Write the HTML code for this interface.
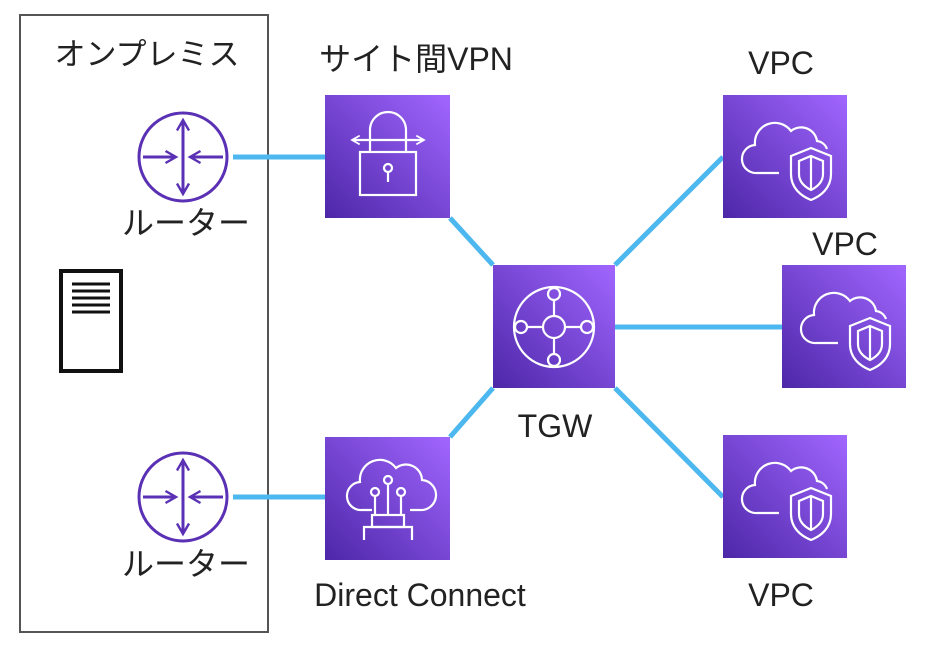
<!DOCTYPE html>
<html><head><meta charset="utf-8"><style>
body{margin:0;background:#fff;}
svg text{font-family:"Liberation Sans","Noto Sans CJK JP",sans-serif;fill:#222;}
</style></head><body>
<svg width="927" height="655" viewBox="0 0 927 655" xmlns="http://www.w3.org/2000/svg">
<defs>
<linearGradient id="g" x1="0" y1="1" x2="1" y2="0">
<stop offset="0" stop-color="#4d27a8"/><stop offset="1" stop-color="#a166ff"/>
</linearGradient>
<marker id="ah" viewBox="0 0 10 10" refX="8" refY="5" markerWidth="5" markerHeight="5" orient="auto-start-reverse"><path d="M1,1 L8,5 L1,9" fill="none" stroke="#5a30b5" stroke-width="1.6"/></marker>
<marker id="wh" viewBox="0 0 10 10" refX="8" refY="5" markerWidth="5" markerHeight="5" orient="auto-start-reverse"><path d="M1,1 L8,5 L1,9" fill="none" stroke="#fff" stroke-width="1.6"/></marker>
<g id="v">
<rect x="0" y="0" width="124" height="123" fill="url(#g)"/>
<g fill="none" stroke="#fff" stroke-width="2.2">
<path d="M56,78 H34 a14,14 0 0 1 -2,-28 a20,20 0 0 1 36,-14 a16,16 0 0 1 26,10 a12,12 0 0 1 10,8"/>
<path d="M88,53 l20,8 v18 c0,14 -10,22 -20,26 c-10,-4 -20,-12 -20,-26 v-18 z"/>
<path d="M88,61 l12,5 v13 c0,8 -6,13 -12,16 c-6,-3 -12,-8 -12,-16 v-13 z"/>
<line x1="88" y1="61" x2="88" y2="95"/>
</g>
</g>
<g id="r1" fill="none" stroke="#5a30b5" stroke-width="3">
<circle cx="183" cy="157" r="44"/>
<line x1="183" y1="120" x2="183" y2="194" marker-start="url(#ah)" marker-end="url(#ah)"/>
<line x1="143" y1="157" x2="176" y2="157" marker-end="url(#ah)"/>
<line x1="223" y1="157" x2="190" y2="157" marker-end="url(#ah)"/>
</g>
</defs>
<rect x="20" y="15" width="248" height="617" fill="none" stroke="#555" stroke-width="2"/>
<g stroke="#4db8ef" stroke-width="5" fill="none">
<line x1="233" y1="157" x2="325" y2="157"/>
<line x1="233" y1="497" x2="325" y2="497"/>
<line x1="450" y1="218" x2="493" y2="265"/>
<line x1="450" y1="437" x2="493" y2="388"/>
<line x1="615" y1="265" x2="723" y2="157"/>
<line x1="615" y1="327" x2="782" y2="327"/>
<line x1="615" y1="388" x2="723" y2="497"/>
</g>
<use href="#r1"/>
<use href="#r1" y="340"/>
<text x="186" y="234" font-size="32" text-anchor="middle">ルーター</text>
<text x="186" y="575" font-size="32" text-anchor="middle">ルーター</text>
<text x="147" y="65" font-size="31" text-anchor="middle">オンプレミス</text>
<rect x="61" y="271" width="60" height="100" fill="none" stroke="#111" stroke-width="4"/>
<g stroke="#111" stroke-width="3"><line x1="72" y1="284" x2="110" y2="284"/><line x1="72" y1="291" x2="110" y2="291"/><line x1="72" y1="298" x2="110" y2="298"/><line x1="72" y1="305" x2="110" y2="305"/><line x1="72" y1="312" x2="110" y2="312"/></g>
<rect x="325" y="95" width="125" height="123" fill="url(#g)"/>
<g fill="none" stroke="#fff" stroke-width="2.2">
<path d="M370,152 V130 a18,18 0 0 1 36,0 V152"/>
<line x1="352" y1="140" x2="424" y2="140" marker-start="url(#wh)" marker-end="url(#wh)"/>
<rect x="360" y="152" width="56" height="43"/>
<circle cx="388" cy="168" r="4"/><line x1="388" y1="172" x2="388" y2="182"/>
</g>
<text x="416" y="70" font-size="32" text-anchor="middle">サイト間VPN</text>
<rect x="325" y="437" width="125" height="123" fill="url(#g)"/>
<g fill="none" stroke="#fff" stroke-width="2.2">
<path d="M372,510 h-10 a14,14 0 0 1 -2,-28 a20,20 0 0 1 36,-14 a16,16 0 0 1 26,12 a14,14 0 0 1 -2,30 h-10"/>
<circle cx="388" cy="480" r="4"/><circle cx="375" cy="492" r="4"/><circle cx="401" cy="492" r="4"/>
<path d="M388,484 V515 M375,496 V515 M401,496 V515"/>
<rect x="372" y="515" width="32" height="12"/>
<path d="M364,540 V527 H412 V540"/>
</g>
<text x="420" y="606" font-size="32" text-anchor="middle">Direct Connect</text>
<rect x="493" y="265" width="122" height="123" fill="url(#g)"/>
<g fill="none" stroke="#fff" stroke-width="2.2">
<circle cx="554" cy="327" r="40"/>
<circle cx="554" cy="327" r="11"/>
<circle cx="554" cy="294" r="6"/><circle cx="554" cy="360" r="6"/>
<circle cx="521" cy="327" r="6"/><circle cx="587" cy="327" r="6"/>
<path d="M554,300 V316 M554,338 V354 M527,327 H543 M565,327 H581"/>
</g>
<text x="555" y="437" font-size="32" text-anchor="middle">TGW</text>
<use href="#v" x="723" y="95"/>
<use href="#v" x="782" y="265"/>
<use href="#v" x="723" y="435"/>
<text x="781" y="74" font-size="32" text-anchor="middle">VPC</text>
<text x="845" y="255" font-size="32" text-anchor="middle">VPC</text>
<text x="781" y="606" font-size="32" text-anchor="middle">VPC</text>
</svg>
</body></html>
